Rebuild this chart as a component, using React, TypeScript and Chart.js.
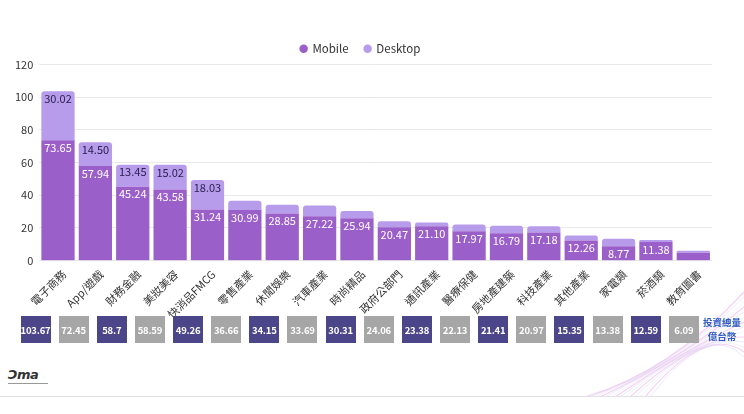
import React, { useEffect, useRef } from "react";
import { Chart, registerables } from "chart.js";

Chart.register(...registerables);

const categories = [
  "電子商務", "App/遊戲", "財務金融", "美妝美容", "快消品FMCG", "零售產業",
  "休閒娛樂", "汽車產業", "時尚精品", "政府公部門", "通訊產業", "醫療保健",
  "房地產建築", "科技產業", "其他產業", "家電類", "菸酒類", "教育圖書",
];
const mobileValues = [
  73.65, 57.94, 45.24, 43.58, 31.24, 30.99, 28.85, 27.22, 25.94, 20.47, 21.1,
  17.97, 16.79, 17.18, 12.26, 8.77, 11.38, 4.8,
];
const desktopValues = [
  30.02, 14.5, 13.45, 15.02, 18.03, 5.67, 5.3, 6.47, 4.37, 3.59, 2.28, 4.16,
  4.62, 3.79, 3.09, 4.61, 1.21, 1.29,
];
const totalLabels = [
  "103.67", "72.45", "58.7", "58.59", "49.26", "36.66", "34.15", "33.69",
  "30.31", "24.06", "23.38", "22.13", "21.41", "20.97", "15.35", "13.38",
  "12.59", "6.09",
];
const yTicks = [0, 20, 40, 60, 80, 100, 120];

const FONT = "'Noto Sans CJK TC', 'Noto Sans', sans-serif";
const MOBILE = "#9b5fc9";
const DESKTOP = "#b89cec";

const labelPlugin = {
  id: "segLabels",
  afterDatasetsDraw(chart: any) {
    const ctx = chart.ctx;
    ctx.save();
    ctx.font = `11px ${FONT}`;
    ctx.textAlign = "center";
    ctx.textBaseline = "middle";
    chart.data.datasets.forEach((ds: any, di: number) => {
      const meta = chart.getDatasetMeta(di);
      meta.data.forEach((bar: any, i: number) => {
        const h = Math.abs(bar.base - bar.y);
        if (h < 12) return;
        const v = ds.data[i] as number;
        ctx.fillStyle = di === 0 ? "#ffffff" : "#2a2050";
        ctx.fillText(v.toFixed(2), bar.x, bar.y + 7.5);
      });
    });
    ctx.restore();
  },
};

export default function App() {
  const ref = useRef<HTMLCanvasElement | null>(null);

  useEffect(() => {
    document.body.style.margin = "0";
    const chart = new Chart(ref.current as HTMLCanvasElement, {
      type: "bar",
      data: {
        labels: categories,
        datasets: [
          {
            label: "Mobile",
            data: mobileValues,
            backgroundColor: MOBILE,
            borderRadius: 0,
            borderSkipped: false,
          },
          {
            label: "Desktop",
            data: desktopValues,
            backgroundColor: DESKTOP,
            borderRadius: { topLeft: 3, topRight: 3, bottomLeft: 0, bottomRight: 0 },
            borderSkipped: false,
          },
        ],
      },
      options: {
        animation: false,
        responsive: true,
        maintainAspectRatio: false,
        datasets: { bar: { barPercentage: 0.89, categoryPercentage: 1 } },
        layout: { padding: { top: 27, left: 9, right: 32, bottom: 0 } },
        plugins: {
          legend: {
            position: "top",
            labels: {
              usePointStyle: true,
              pointStyle: "circle",
              boxWidth: 6,
              boxHeight: 6,
              padding: 16,
              color: "#333",
              font: { family: FONT, size: 11.5 },
            },
          },
          tooltip: { enabled: false },
        },
        scales: {
          x: {
            stacked: true,
            grid: { display: false, drawTicks: false },
            border: { display: false },
            ticks: {
              maxRotation: 45,
              minRotation: 45,
              autoSkip: false,
              color: "#333",
              padding: 7,
              labelOffset: 6,
              font: { family: FONT, size: 11 },
            },
          },
          y: {
            stacked: true,
            min: 0,
            max: 120,
            afterBuildTicks(axis: any) {
              axis.ticks = yTicks.map((v) => ({ value: v }));
            },
            grid: { color: "#e9e9e9", drawTicks: false },
            border: { display: false },
            ticks: {
              color: "#333",
              padding: 6,
              font: { family: FONT, size: 11 },
            },
          },
        },
      },
      plugins: [labelPlugin],
    });
    return () => chart.destroy();
  }, []);

  const swoosh = [];
  for (let k = 0; k < 14; k++) {
    const c = k % 3 === 0 ? "#e99ae4" : k % 3 === 1 ? "#c4bdf0" : "#d3dbf3";
    swoosh.push(
      <path
        key={k}
        d={`M ${585 + k * 5} 397 Q ${670 + k * 3} ${372 - k * 4} ${744} ${292 + k * 5}`}
        stroke={c}
        strokeWidth={k % 3 === 0 ? 1.2 : 0.7}
        fill="none"
        opacity={0.45}
      />
    );
  }

  return (
    <div
      style={{
        position: "fixed",
        left: 0,
        top: 0,
        width: 744,
        height: 414,
        background: "#fff",
        overflow: "hidden",
        fontFamily: FONT,
      }}
    >
      <svg
        width={744}
        height={414}
        style={{ position: "absolute", left: 0, top: 0 }}
      >
        {swoosh}
        <line x1={0} y1={396.5} x2={744} y2={396.5} stroke="#e2e2e2" strokeWidth={1} />
      </svg>
      <div style={{ position: "absolute", left: 0, top: 0, width: 744, height: 328 }}>
        <canvas ref={ref} />
      </div>
      {totalLabels.map((t, i) => (
        <div
          key={i}
          style={{
            position: "absolute",
            left: 20.5 + i * 38.14,
            top: 316,
            width: 30,
            height: 27,
            background: i % 2 === 0 ? "#4b4689" : "#a6a6a6",
            color: "#fff",
            fontSize: 9.5,
            fontWeight: 700,
            display: "flex",
            alignItems: "center",
            justifyContent: "center",
            boxSizing: "border-box",
            paddingTop: 1,
            letterSpacing: -0.2,
          }}
        >
          {t}
        </div>
      ))}
      <div
        style={{
          position: "absolute",
          left: 700,
          top: 315,
          width: 44,
          textAlign: "center",
          color: "#2f5cc0",
          fontSize: 9.5,
          fontWeight: 700,
          lineHeight: "14px",
        }}
      >
        投資總量
        <br />
        億台幣
      </div>
      <div
        style={{
          position: "absolute",
          left: 8,
          top: 368,
          color: "#333",
          fontSize: 13,
          fontWeight: 900,
          fontStyle: "italic",
          letterSpacing: -0.5,
          fontFamily: "'DejaVu Sans', sans-serif",
          lineHeight: "14px",
        }}
      >
        Ɔma
        <div style={{ height: 1, width: 40, background: "#999", marginTop: 1 }} />
      </div>
    </div>
  );
}
